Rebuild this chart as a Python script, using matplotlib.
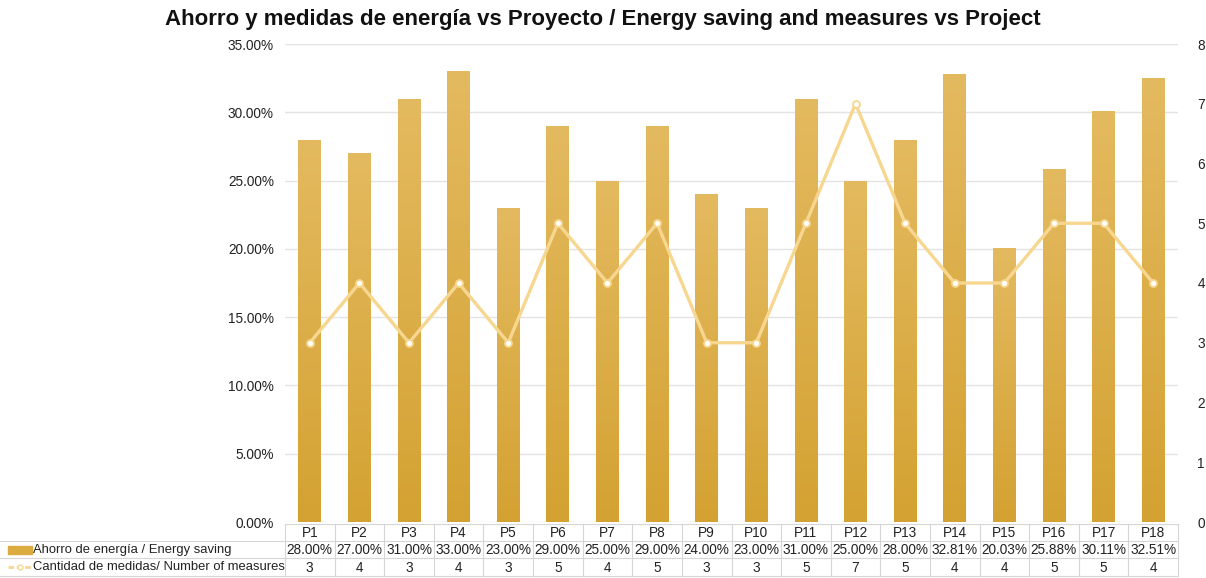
import matplotlib
matplotlib.use("Agg")
import matplotlib.pyplot as plt
import numpy as np
from matplotlib.colors import LinearSegmentedColormap
from matplotlib.patches import Rectangle
from matplotlib.lines import Line2D

plt.rcParams['font.family'] = ['Liberation Sans', 'DejaVu Sans']

projects = ["P1", "P2", "P3", "P4", "P5", "P6", "P7", "P8", "P9", "P10",
            "P11", "P12", "P13", "P14", "P15", "P16", "P17", "P18"]
saving = [28.00, 27.00, 31.00, 33.00, 23.00, 29.00, 25.00, 29.00, 24.00, 23.00,
          31.00, 25.00, 28.00, 32.81, 20.03, 25.88, 30.11, 32.51]
measures = [3, 4, 3, 4, 3, 5, 4, 5, 3, 3, 5, 7, 5, 4, 4, 5, 5, 4]
left_ticks = [0, 5, 10, 15, 20, 25, 30, 35]
right_ticks = [0, 1, 2, 3, 4, 5, 6, 7, 8]
label_saving = "Ahorro de energía / Energy saving"
label_measures = "Cantidad de medidas/ Number of measures"
title = "Ahorro y medidas de energía vs Proyecto / Energy saving and measures vs Project"

W, H = 1206, 578
fig = plt.figure(figsize=(W / 100, H / 100), dpi=100)

L, R, B, T = 285, 1178, 522, 44
ax = fig.add_axes([L / W, 1 - B / H, (R - L) / W, (B - T) / H])
n = len(projects)
x = np.arange(n)

bar_color = "#DBAB3F"
line_color = "#F7D790"
grid_color = "#E3E3E3"

cmap = LinearSegmentedColormap.from_list("g", ["#D4A232", "#E4BA60"])
bars = ax.bar(x, saving, width=0.46, color=bar_color, zorder=2)
grad = np.linspace(0, 1, 256).reshape(-1, 1)
for b in bars:
    x0, w, h = b.get_x(), b.get_width(), b.get_height()
    im = ax.imshow(grad, extent=[x0, x0 + w, 0, h], origin="lower", aspect="auto",
                   cmap=cmap, zorder=3)
    im.set_clip_path(b)

ax.set_xlim(-0.5, n - 0.5)
ax.set_ylim(0, 35)
ax.set_yticks(left_ticks)
ax.set_yticklabels([f"{t:.2f}%" for t in left_ticks])
ax.set_xticks([])
ax.grid(axis="y", color=grid_color, linewidth=1, zorder=0)
ax.set_axisbelow(True)
for s in ax.spines.values():
    s.set_visible(False)
ax.tick_params(axis="y", length=0, pad=8, labelsize=9.8, colors="#222222")

ax2 = ax.twinx()
ax2.plot(x, measures, color=line_color, linewidth=2.4, marker="o", markersize=5,
         markerfacecolor="white", markeredgecolor=line_color, markeredgewidth=1.3, zorder=5)
ax2.set_ylim(0, 8)
ax2.set_yticks(right_ticks)
ax2.tick_params(axis="y", length=0, pad=14, labelsize=9.8, colors="#222222")
for s in ax2.spines.values():
    s.set_visible(False)
ax2.set_xlim(-0.5, n - 0.5)

fig.text(0.5, 1 - 19 / H, title, ha="center", va="center", fontsize=16,
         fontweight="bold", color="#111111")

# data table
def fx(px):
    return px / W

def fy(py):
    return 1 - py / H

tcol = "#D6D6D6"
rows_y = [524, 541, 558, 576]
colw = (R - L) / n
fig.add_artist(Line2D([fx(L), fx(R)], [fy(rows_y[0])] * 2, color=tcol, lw=0.8))
for yy in rows_y[1:]:
    fig.add_artist(Line2D([fx(0), fx(R)], [fy(yy)] * 2, color=tcol, lw=0.8))
for i in range(n + 1):
    xx = L + i * colw
    fig.add_artist(Line2D([fx(xx)] * 2, [fy(rows_y[0]), fy(rows_y[3])], color=tcol, lw=0.8))

fs = 9.8
for i in range(n):
    cx = fx(L + (i + 0.5) * colw)
    fig.text(cx, fy((rows_y[0] + rows_y[1]) / 2 + 0.5), projects[i], ha="center", va="center",
             fontsize=fs, color="#222222")
    fig.text(cx, fy((rows_y[1] + rows_y[2]) / 2 + 0.5), f"{saving[i]:.2f}%", ha="center",
             va="center", fontsize=fs, color="#222222")
    fig.text(cx, fy((rows_y[2] + rows_y[3]) / 2 + 0.5), f"{measures[i]}", ha="center",
             va="center", fontsize=fs, color="#222222")

# legend keys
ym1 = (rows_y[1] + rows_y[2]) / 2
ym2 = (rows_y[2] + rows_y[3]) / 2
fig.add_artist(Rectangle((fx(8), fy(ym1 + 4)), fx(24), 8 / H, color=bar_color))
fig.add_artist(Line2D([fx(8), fx(32)], [fy(ym2)] * 2, color=line_color, lw=2,
                      linestyle=(0, (2, 1))))
fig.add_artist(Line2D([fx(20)], [fy(ym2)], color=line_color, marker="o", markersize=3.5,
                      markerfacecolor="white", markeredgecolor=line_color, lw=0))
fig.text(fx(33), fy(ym1 + 0.5), label_saving, ha="left", va="center", fontsize=9.4, color="#222222")
fig.text(fx(33), fy(ym2 + 0.5), label_measures, ha="left", va="center", fontsize=9.4, color="#222222")

fig.savefig("out.png", dpi=100)
